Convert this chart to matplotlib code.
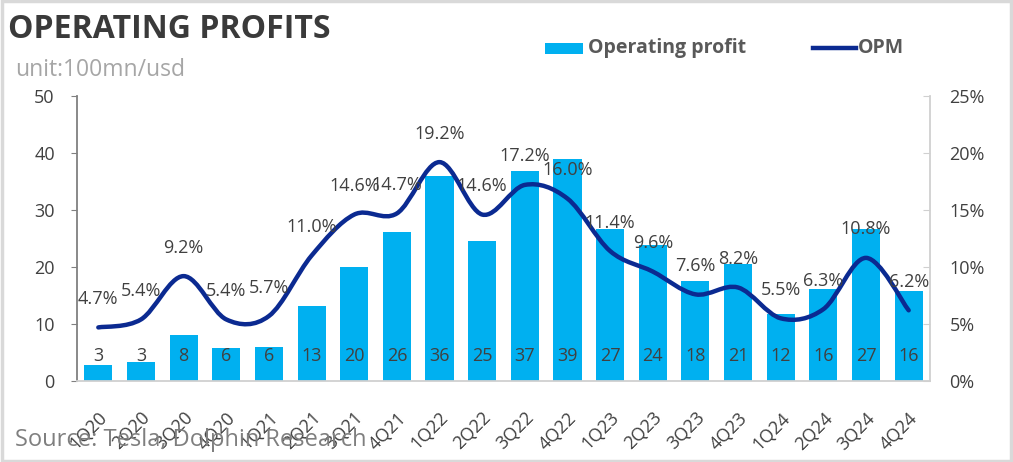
import matplotlib
matplotlib.use("Agg")
import matplotlib.pyplot as plt
from matplotlib.path import Path
from matplotlib.patches import PathPatch, Rectangle
from matplotlib.lines import Line2D
import matplotlib.transforms as mtransforms
import numpy as np

quarters = ["1Q20", "2Q20", "3Q20", "4Q20", "1Q21", "2Q21", "3Q21", "4Q21",
            "1Q22", "2Q22", "3Q22", "4Q22", "1Q23", "2Q23", "3Q23", "4Q23",
            "1Q24", "2Q24", "3Q24", "4Q24"]
op_profit = [2.8, 3.3, 8.0, 5.8, 5.9, 13.2, 20.0, 26.1, 36.0, 24.6, 36.9, 39.0,
             26.6, 23.9, 17.6, 20.6, 11.7, 16.1, 26.7, 15.8]
opm = [4.7, 5.4, 9.2, 5.4, 5.7, 11.0, 14.6, 14.7, 19.2, 14.6, 17.2, 16.0,
       11.4, 9.6, 7.6, 8.2, 5.5, 6.3, 10.8, 6.2]
left_ticks = [0, 10, 20, 30, 40, 50]
right_ticks = [0, 5, 10, 15, 20, 25]

FONT = ["Open Sans", "DejaVu Sans"]
plt.rcParams["font.family"] = FONT

BAR = "#00B0F0"
LINE = "#0B2A91"
TXT = "#404040"
FS = 13

fig = plt.figure(figsize=(10.13, 4.62), dpi=100)
ax = fig.add_axes([77 / 1013, 1 - 381 / 462, (930 - 77) / 1013, (381 - 96) / 462])
ax2 = ax.twinx()

x = np.arange(len(quarters))
ax.bar(x, op_profit, width=0.66, color=BAR, zorder=2)
for xi, v in zip(x, op_profit):
    ax.text(xi, 4.3, f"{v:.0f}", ha="center", va="center", fontsize=FS, color=TXT, zorder=3)

ax.set_xlim(-0.5, len(quarters) - 0.5)
ax.set_ylim(0, 50)
ax.set_yticks(left_ticks)
ax.set_yticklabels([str(t) for t in left_ticks], fontsize=FS, color=TXT)
ax.set_xticks(x)
ax.set_xticklabels(quarters, rotation=45, ha="right", va="top", rotation_mode="anchor",
                   fontsize=FS, color=TXT)
offset = mtransforms.ScaledTranslation(-6 / 100, 0, fig.dpi_scale_trans)
for lbl in ax.get_xticklabels():
    lbl.set_transform(lbl.get_transform() + offset)
ax.tick_params(axis="x", length=0, pad=20)
ax.tick_params(axis="y", direction="out", length=4, color="#808080", pad=12)
ax.spines["top"].set_visible(False)
ax.spines["left"].set_color("#808080")
ax.spines["left"].set_linewidth(1.3)
ax.spines["bottom"].set_color("#d0d0d0")
ax.spines["bottom"].set_linewidth(1.3)
ax.spines["right"].set_visible(False)

ax2.set_ylim(0, 25)
ax2.set_yticks(right_ticks)
ax2.set_yticklabels([f"{t}%" for t in right_ticks], fontsize=FS, color=TXT)
ax2.tick_params(axis="y", direction="in", length=5, color="#d0d0d0", pad=14)
for s in ["top", "left", "bottom"]:
    ax2.spines[s].set_visible(False)
ax2.spines["right"].set_color("#d0d0d0")
ax2.spines["right"].set_linewidth(1.3)

# smoothed OPM line (Catmull-Rom style Bezier through the data points)
pts = np.column_stack([x, opm]).astype(float)
n = len(pts)
verts = [tuple(pts[0])]
codes = [Path.MOVETO]
for i in range(n - 1):
    p0 = pts[i - 1] if i > 0 else pts[i]
    p1 = pts[i]
    p2 = pts[i + 1]
    p3 = pts[i + 2] if i + 2 < n else pts[i + 1]
    c1 = p1 + (p2 - p0) / 6.0
    c2 = p2 - (p3 - p1) / 6.0
    verts += [tuple(c1), tuple(c2), tuple(p2)]
    codes += [Path.CURVE4] * 3
ax2.add_patch(PathPatch(Path(verts, codes), facecolor="none", edgecolor=LINE,
                        lw=3.2, capstyle="round", joinstyle="round", zorder=4))

for xi, v in zip(x, opm):
    ax2.annotate(f"{v:.1f}%", (xi, v), xytext=(0, 20.5), textcoords="offset points",
                 ha="center", va="center", fontsize=FS, color=TXT, zorder=5)

# titles
fig.text(8 / 1013, 1 - 30 / 462, "OPERATING PROFITS", fontsize=23, fontweight="bold",
         color="#3a3a3a", ha="left", va="center")
fig.text(15 / 1013, 1 - 70 / 462, "unit:100mn/usd", fontsize=16.5, color="#a6a6a6",
         ha="left", va="center")
fig.text(15 / 1013, 1 - 440 / 462, "Source: Tesla, Dolphin Research", fontsize=17,
         color="#7f7f7f", ha="left", va="center")

# legend
fig.patches.append(Rectangle((545 / 1013, 1 - 54 / 462), 38 / 1013, 11 / 462,
                             transform=fig.transFigure, facecolor=BAR, edgecolor="none"))
fig.text(588 / 1013, 1 - 48 / 462, "Operating profit", fontsize=14, fontweight="bold",
         color="#595959", ha="left", va="center")
fig.lines.append(Line2D([813 / 1013, 856 / 1013], [1 - 48 / 462, 1 - 48 / 462],
                        transform=fig.transFigure, color=LINE, lw=3.2))
fig.text(858 / 1013, 1 - 48 / 462, "OPM", fontsize=14, fontweight="bold",
         color="#595959", ha="left", va="center")

# outer frame
fig.patches.append(Rectangle((0.0015, 0.003), 0.997, 0.994, transform=fig.transFigure,
                             facecolor="none", edgecolor="#d9d9d9", lw=2.5))

fig.savefig("out.png", dpi=100)
